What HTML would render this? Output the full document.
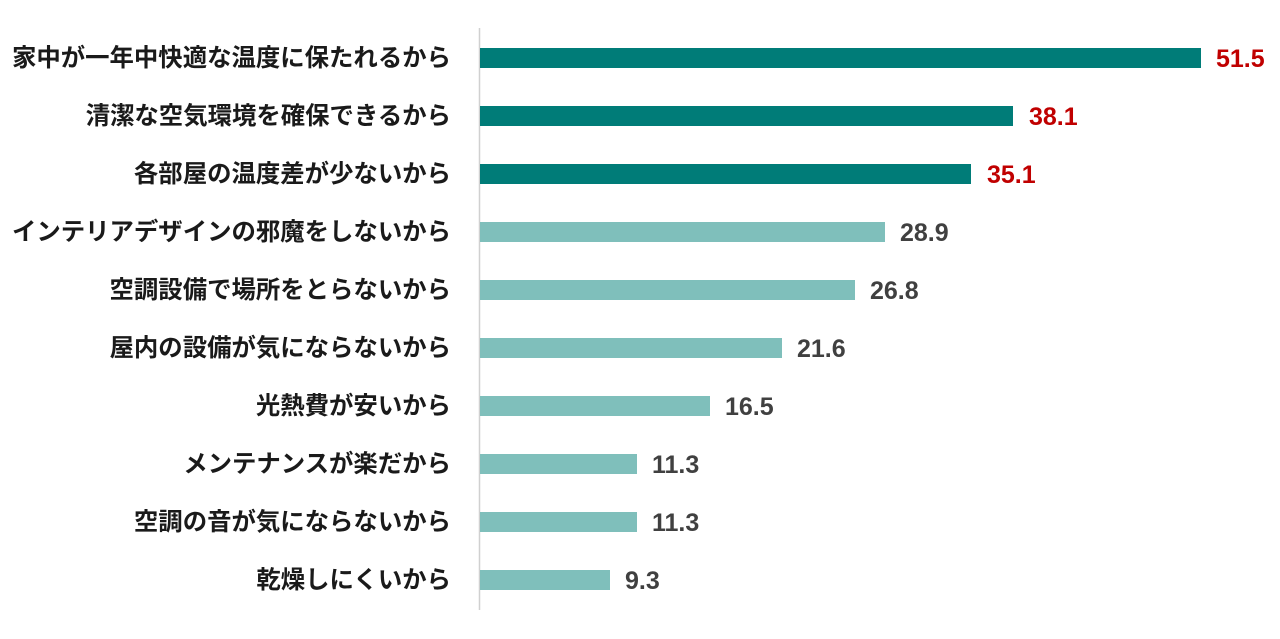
<!DOCTYPE html>
<html><head><meta charset="utf-8"><style>
body{margin:0;background:#fff;width:1280px;height:634px;overflow:hidden}
</style></head><body>
<svg width="1280" height="634" xmlns="http://www.w3.org/2000/svg" font-family="'Liberation Sans','Noto Sans CJK JP',sans-serif" font-weight="bold">
<line x1="479.5" y1="28" x2="479.5" y2="610" stroke="#d0d0d0" stroke-width="1.5"/>
<g font-size="24.4" fill="#1a1a1a" text-anchor="end">
<text x="451" y="66">家中が一年中快適な温度に保たれるから</text>
<text x="451" y="124">清潔な空気環境を確保できるから</text>
<text x="451" y="182">各部屋の温度差が少ないから</text>
<text x="451" y="240">インテリアデザインの邪魔をしないから</text>
<text x="451" y="298">空調設備で場所をとらないから</text>
<text x="451" y="356">屋内の設備が気にならないから</text>
<text x="451" y="414">光熱費が安いから</text>
<text x="451" y="472">メンテナンスが楽だから</text>
<text x="451" y="530">空調の音が気にならないから</text>
<text x="451" y="588">乾燥しにくいから</text>
</g>
<g fill="#007c78">
<rect x="480" y="48" width="721" height="20"/>
<rect x="480" y="106" width="533" height="20"/>
<rect x="480" y="164" width="491" height="20"/>
</g>
<g fill="#7fbfbb">
<rect x="480" y="222" width="405" height="20"/>
<rect x="480" y="280" width="375" height="20"/>
<rect x="480" y="338" width="302" height="20"/>
<rect x="480" y="396" width="230" height="20"/>
<rect x="480" y="454" width="157" height="20"/>
<rect x="480" y="512" width="157" height="20"/>
<rect x="480" y="570" width="130" height="20"/>
</g>
<g font-size="25">
<text x="1216" y="67" fill="#c00000">51.5</text>
<text x="1029" y="125" fill="#c00000">38.1</text>
<text x="987" y="183" fill="#c00000">35.1</text>
<g fill="#404040">
<text x="900" y="241">28.9</text>
<text x="870" y="299">26.8</text>
<text x="797" y="357">21.6</text>
<text x="725" y="415">16.5</text>
<text x="652" y="473">11.3</text>
<text x="652" y="531">11.3</text>
<text x="625" y="589">9.3</text>
</g>
</g>
</svg>
</body></html>
